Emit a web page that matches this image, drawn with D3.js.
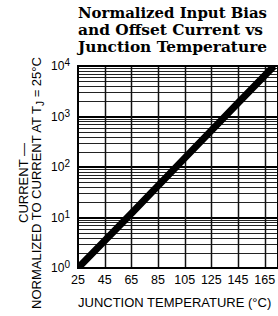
<!DOCTYPE html>
<html>
<head>
<meta charset="utf-8">
<script src="https://cdnjs.cloudflare.com/ajax/libs/d3/7.8.5/d3.min.js"></script>
<style>
  body { margin: 0; background: #fff; }
</style>
</head>
<body>
<div id="chart-area"></div>
<script>
var titleLines = ["Normalized Input Bias", "and Offset Current vs", "Junction Temperature"];
var tempTicks = [25, 45, 65, 85, 105, 125, 145, 165];
var decadeTicks = [1, 10, 100, 1000, 10000];
var decadeExp = ["0", "1", "2", "3", "4"];
var tempC = [25, 65, 105, 145, 172];
var current = [1, 12, 150, 1850, 10000];

var margin = { left: 78, right: 0, top: 66, bottom: 48 };
var W = 278, H = 316;
var width = 200;
var height = 202;

var svg = d3.select("#chart-area")
    .append("svg")
    .attr("width", W)
    .attr("height", H);

// title
svg.append("g").selectAll("text")
    .data(titleLines)
    .enter()
    .append("text")
    .attr("x", 78)
    .attr("y", (d, i) => 18 + i * 17)
    .attr("font-family", "'DejaVu Serif', serif")
    .attr("font-weight", "bold")
    .attr("font-size", "14px")
    .attr("textLength", (d, i) => [189, 185, 189][i])
    .attr("lengthAdjust", "spacingAndGlyphs")
    .text(d => d);

var group = svg.append("g")
    .attr("transform", "translate(" + margin.left + "," + margin.top + ")");

var x = d3.scaleLinear()
    .domain([25, 175])
    .range([0, width]);

var y = d3.scaleLog()
    .domain([1, 10000])
    .range([height, 0]);

group.append("clipPath").attr("id", "clip")
    .append("rect").attr("width", width).attr("height", height);

// minor log grid
var minor = [];
decadeTicks.slice(0, 4).forEach(d => {
    for (var k = 2; k <= 9; k++) minor.push(d * k);
});

group.append("g").selectAll("line.minor")
    .data(minor)
    .enter()
    .append("line")
    .attr("x1", 0).attr("x2", width)
    .attr("y1", d => Math.round(y(d)) + 0.5)
    .attr("y2", d => Math.round(y(d)) + 0.5)
    .attr("stroke", "#222")
    .attr("stroke-width", 1);

group.append("g").selectAll("line.major")
    .data(decadeTicks)
    .enter()
    .append("line")
    .attr("x1", 0).attr("x2", width)
    .attr("y1", d => Math.round(y(d)))
    .attr("y2", d => Math.round(y(d)))
    .attr("stroke", "#000")
    .attr("stroke-width", 2);

group.append("g").selectAll("line.vert")
    .data(tempTicks.slice(1))
    .enter()
    .append("line")
    .attr("y1", 0).attr("y2", height)
    .attr("x1", d => Math.round(x(d)) + 0.5)
    .attr("x2", d => Math.round(x(d)) + 0.5)
    .attr("stroke", "#111")
    .attr("stroke-width", 1.5);

group.append("rect")
    .attr("width", width)
    .attr("height", height)
    .attr("fill", "none")
    .attr("stroke", "#000")
    .attr("stroke-width", 2);

// data line
var line = d3.line()
    .x((d, i) => x(tempC[i]))
    .y(d => y(d));

group.append("path")
    .datum(current)
    .attr("clip-path", "url(#clip)")
    .attr("d", line)
    .attr("fill", "none")
    .attr("stroke", "#000")
    .attr("stroke-width", 7);

// y tick labels
var yLab = group.append("g").selectAll("text")
    .data(decadeTicks)
    .enter()
    .append("text")
    .attr("x", -8)
    .attr("y", d => y(d) + 4)
    .attr("text-anchor", "end")
    .attr("font-family", "'Liberation Sans', Arial, sans-serif")
    .attr("font-size", "12px");
yLab.append("tspan").text("10");
yLab.append("tspan")
    .attr("dy", -4)
    .attr("font-size", "10px")
    .text((d, i) => decadeExp[i]);

// x tick labels
group.append("g").selectAll("text")
    .data(tempTicks)
    .enter()
    .append("text")
    .attr("x", d => x(d))
    .attr("y", height + 16)
    .attr("text-anchor", "middle")
    .attr("font-family", "'Liberation Sans', Arial, sans-serif")
    .attr("font-size", "12.5px")
    .text(d => d);

// x axis title
svg.append("text")
    .attr("x", 78)
    .attr("y", 307)
    .attr("font-family", "'Liberation Sans', Arial, sans-serif")
    .attr("font-size", "13px")
    .text("JUNCTION TEMPERATURE (\u00B0C)");

// y axis title
var yTitle = svg.append("g")
    .attr("transform", "translate(0,183) rotate(-90)");

yTitle.append("text")
    .attr("x", 0)
    .attr("y", 28)
    .attr("text-anchor", "middle")
    .attr("font-family", "'Liberation Sans', Arial, sans-serif")
    .attr("font-size", "13px")
    .text("CURRENT \u2014");

var t2 = yTitle.append("text")
    .attr("x", 0)
    .attr("y", 41)
    .attr("text-anchor", "middle")
    .attr("font-family", "'Liberation Sans', Arial, sans-serif")
    .attr("font-size", "13px");
t2.append("tspan").text("NORMALIZED TO CURRENT AT T");
t2.append("tspan").attr("dy", 3).attr("font-size", "10px").text("J");
t2.append("tspan").attr("dy", -3).text(" = 25\u00B0C");
</script>
</body>
</html>
